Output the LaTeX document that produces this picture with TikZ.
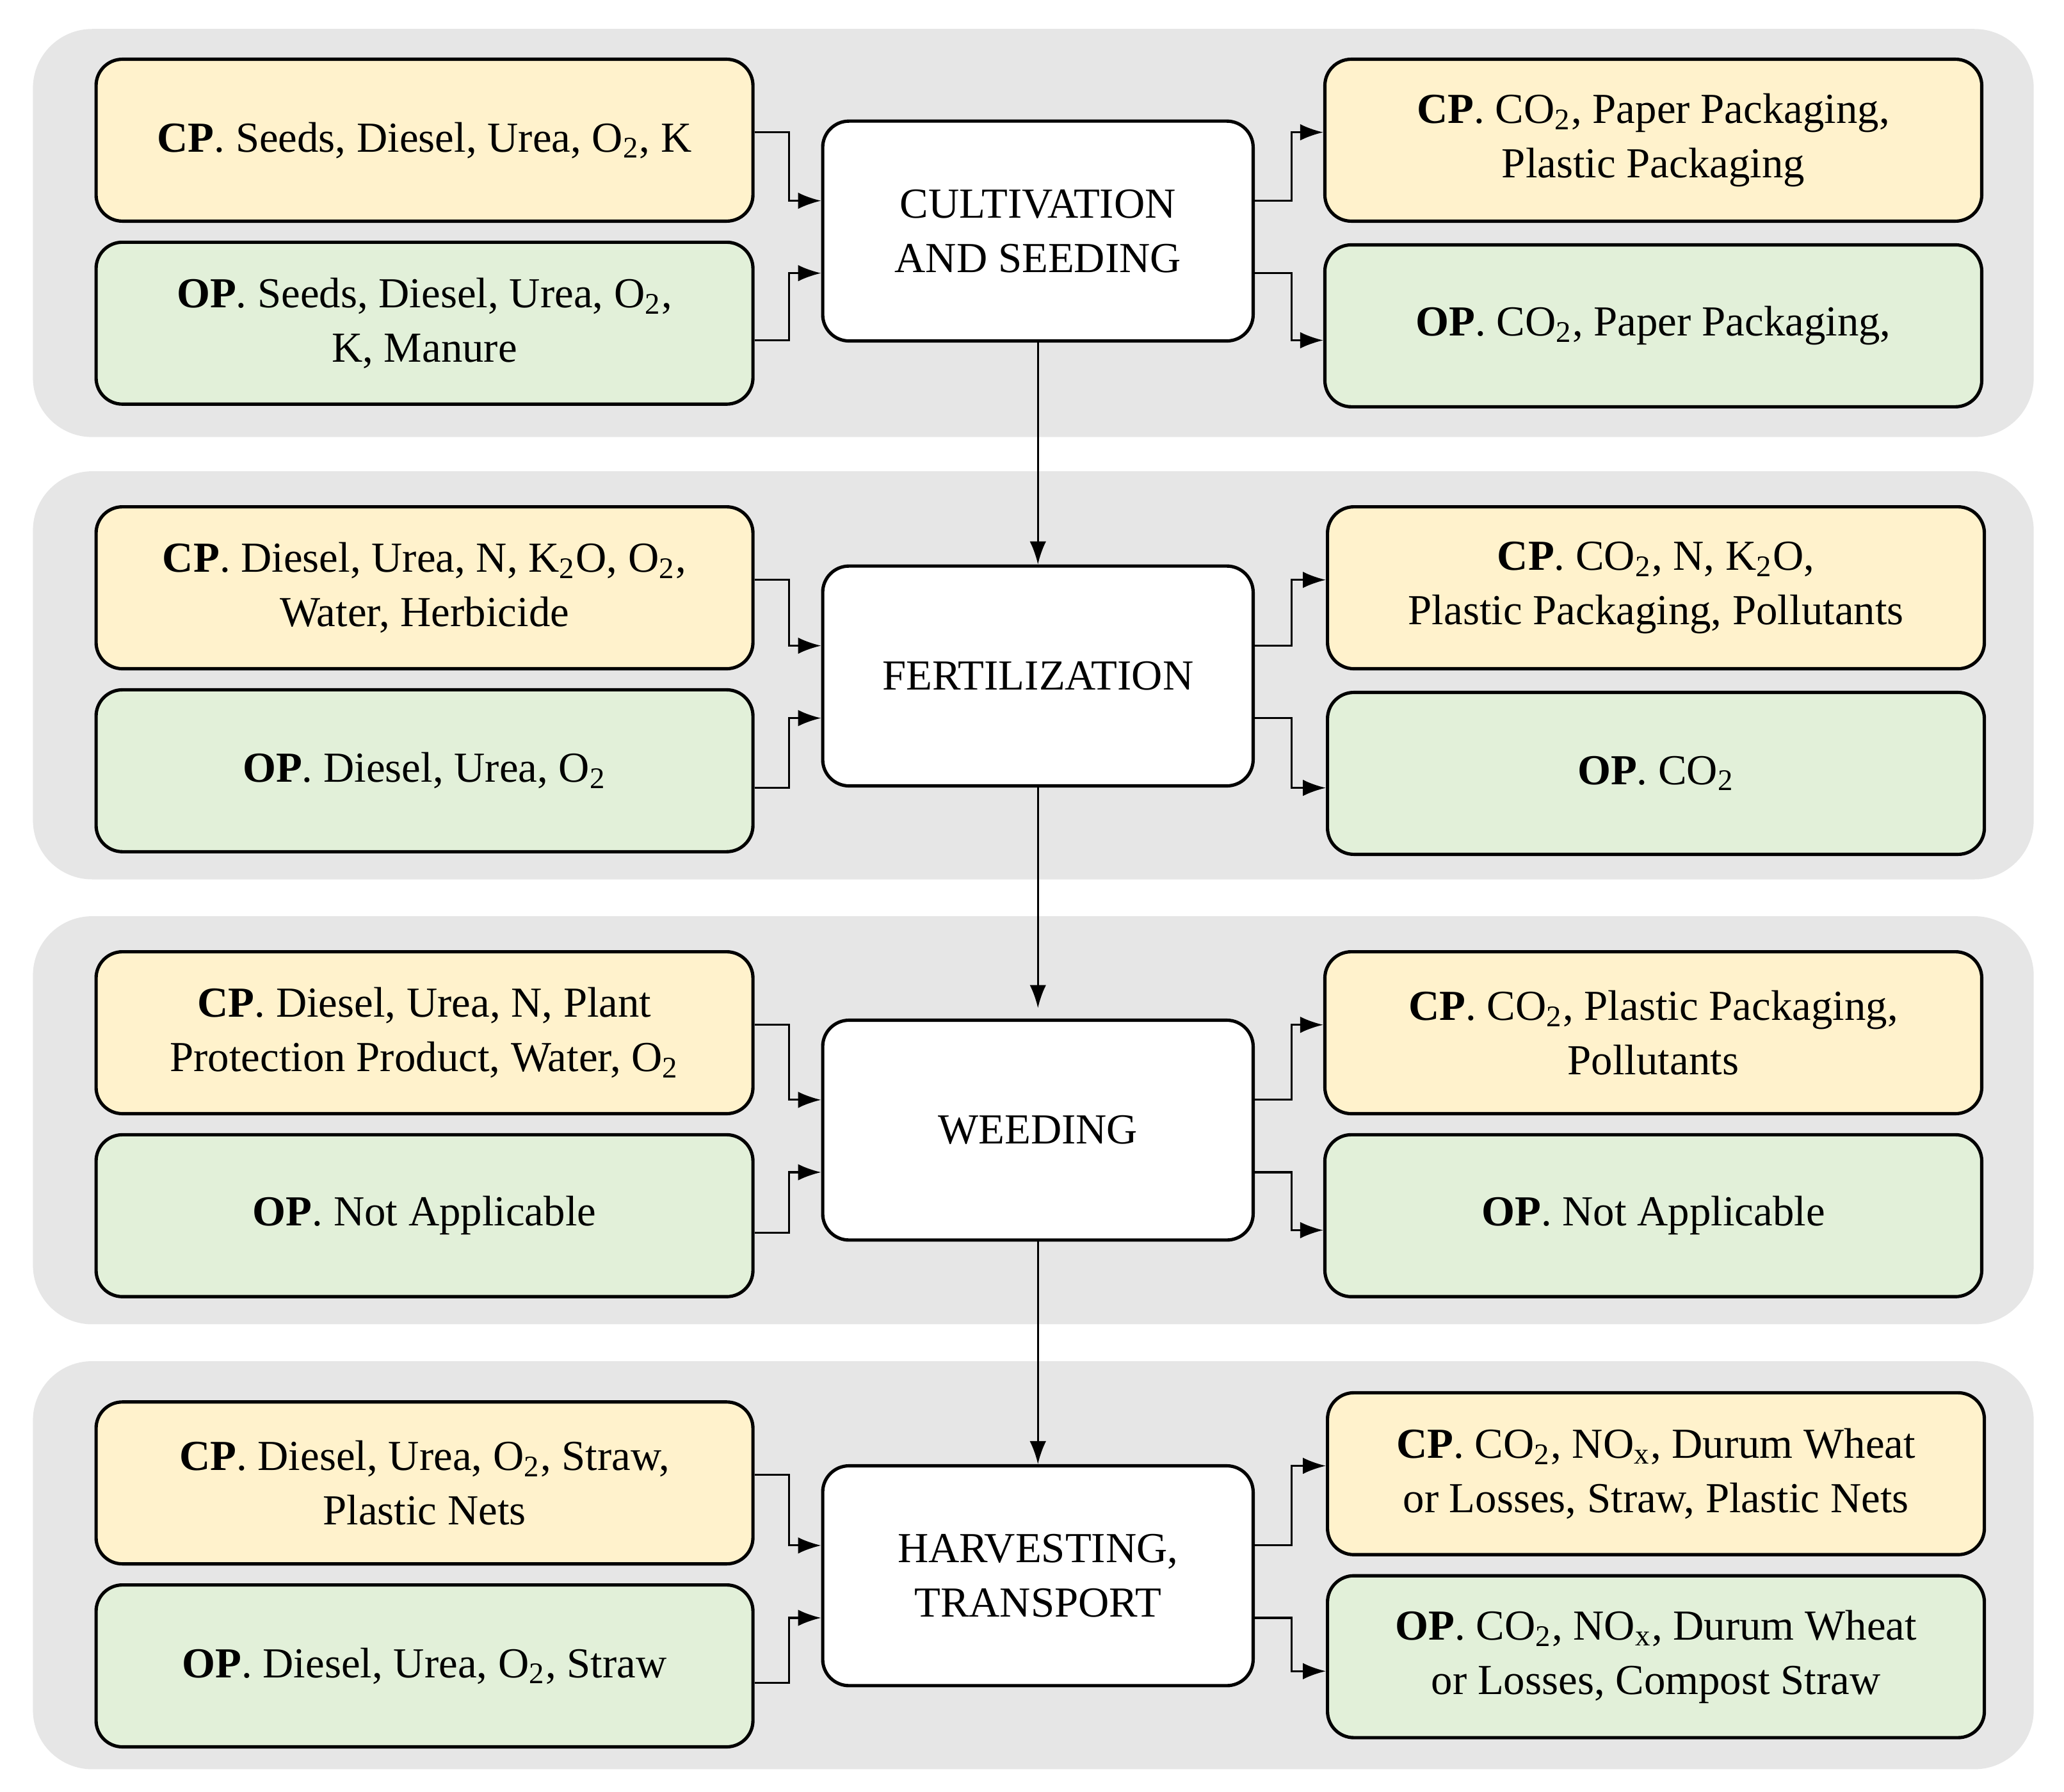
\documentclass[tikz,border=0pt]{standalone}
\usepackage{fontspec}
\setmainfont{Liberation Serif}
\usetikzlibrary{arrows.meta,calc}
\definecolor{band}{HTML}{E6E6E6}
\definecolor{cpf}{HTML}{FFF2CC}
\definecolor{opf}{HTML}{E2F0D9}
\newcommand{\sub}[1]{\textsubscript{#1}}
\begin{document}
\begin{tikzpicture}[x=0.4pt,y=-0.4pt,
  band/.style={fill=band,draw=none,rounded corners=18pt},
  box/.style={draw=black,line width=1pt,rounded corners=8pt,minimum width=199.6pt,minimum height=49.2pt,align=center,font=\fontsize{13}{16.5}\selectfont,inner sep=2pt},
  cp/.style={box,fill=cpf},
  op/.style={box,fill=opf},
  ctr/.style={box,fill=white,minimum width=130.8pt,minimum height=66.8pt},
  arr/.style={line width=0.6pt,-{Latex[length=7pt,width=5pt]}}]
\useasboundingbox (0,0) rectangle (1568,1361);
\foreach \t in {22,358,696,1034}{\fill[band] (25,\t) rectangle (1545,\t+310);}
% band 1
\node[cp] (lcp1) at (322.5,106.5) {\textbf{CP}. Seeds, Diesel, Urea, O\sub{2}, K};
\node[op] (lop1) at (322.5,245.5) {\textbf{OP}. Seeds, Diesel, Urea, O\sub{2},\\K, Manure};
\node[ctr] (c1) at (788.5,175.5) {CULTIVATION\\AND SEEDING};
\node[cp] (rcp1) at (1256,106.5) {\textbf{CP}. CO\sub{2}, Paper Packaging,\\Plastic Packaging};
\node[op] (rop1) at (1256,247.5) {\textbf{OP}. CO\sub{2}, Paper Packaging,};
% band 2
\node[cp] (lcp2) at (322.5,446.5) {\textbf{CP}. Diesel, Urea, N, K\sub{2}O, O\sub{2},\\Water, Herbicide};
\node[op] (lop2) at (322.5,585.5) {\textbf{OP}. Diesel, Urea, O\sub{2}};
\node[ctr] (c2) at (788.5,513.5) {FERTILIZATION};
\node[cp] (rcp2) at (1258,446.5) {\textbf{CP}. CO\sub{2}, N, K\sub{2}O,\\Plastic Packaging, Pollutants};
\node[op] (rop2) at (1258,587.5) {\textbf{OP}. CO\sub{2}};
% band 3
\node[cp] (lcp3) at (322.5,784.5) {\textbf{CP}. Diesel, Urea, N, Plant\\Protection Product, Water, O\sub{2}};
\node[op] (lop3) at (322.5,923.5) {\textbf{OP}. Not Applicable};
\node[ctr] (c3) at (788.5,858.5) {WEEDING};
\node[cp] (rcp3) at (1256,784.5) {\textbf{CP}. CO\sub{2}, Plastic Packaging,\\Pollutants};
\node[op] (rop3) at (1256,923.5) {\textbf{OP}. Not Applicable};
% band 4
\node[cp] (lcp4) at (322.5,1126.5) {\textbf{CP}. Diesel, Urea, O\sub{2}, Straw,\\Plastic Nets};
\node[op] (lop4) at (322.5,1265.5) {\textbf{OP}. Diesel, Urea, O\sub{2}, Straw};
\node[ctr] (c4) at (788.5,1197) {HARVESTING,\\TRANSPORT};
\node[cp] (rcp4) at (1258,1119.5) {\textbf{CP}. CO\sub{2}, NO\sub{x}, Durum Wheat\\or Losses, Straw, Plastic Nets};
\node[op] (rop4) at (1258,1258.5) {\textbf{OP}. CO\sub{2}, NO\sub{x}, Durum Wheat\\or Losses, Compost Straw};
% connectors
\foreach \i in {1,2,3,4}{
  \draw[arr] ($(lcp\i.east)+(0,-6)$) -- ++(26,0) |- ($(c\i.west)+(0,-23)$);
  \draw[arr] ($(lop\i.east)+(0,13)$) -- ++(26,0) |- ($(c\i.west)+(0,32)$);
  \draw[arr] ($(c\i.east)+(0,-23)$) -- ++(28,0) |- ($(rcp\i.west)+(0,-6)$);
  \draw[arr] ($(c\i.east)+(0,32)$) -- ++(28,0) |- ($(rop\i.west)+(0,11)$);
}
\draw[arr] (c1.south) -- (c2.north);
\draw[arr] (c2.south) -- ($(c3.north)+(0,-8)$);
\draw[arr] (c3.south) -- ($(c4.north)+(0,0)$);
\end{tikzpicture}
\end{document}
